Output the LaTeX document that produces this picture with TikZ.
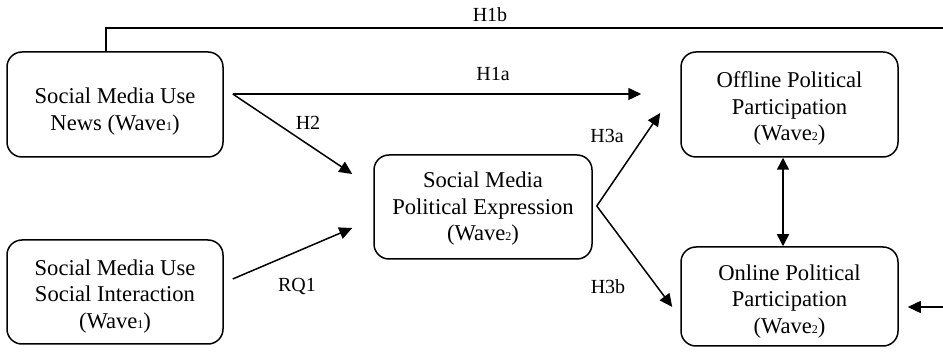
\documentclass[tikz,border=0pt]{standalone}
\usepackage{fontspec}
\setmainfont{Liberation Serif}
\usetikzlibrary{arrows.meta}
\newcommand{\wsub}[1]{{\fontsize{12}{12}\selectfont #1}}
\begin{document}
\begin{tikzpicture}[x=1pt,y=-1pt,
  box/.style={draw,line width=1.5pt,rounded corners=15pt,minimum width=216pt,minimum height=104pt,inner sep=0pt},
  boxtext/.style={align=center,font=\fontsize{22.6}{26.5}\selectfont,inner sep=0pt},
  lbl/.style={font=\fontsize{20}{24}\selectfont,inner sep=0pt},
  arr/.style={line width=1.5pt,-{Triangle[length=13pt,width=12pt]}},
  dbl/.style={line width=1.5pt,{Triangle[length=12pt,width=12pt]}-{Triangle[length=12pt,width=12pt]}}]
\useasboundingbox (0,0) rectangle (943,352);

% boxes
\node[box,minimum height=105pt] (news) at (115,104.5) {};
\node[box] (inter) at (115,292) {};
\node[box,minimum width=218pt] (expr) at (483,207) {};
\node[box,minimum width=217pt,minimum height=105pt] (off) at (789.5,104.5) {};
\node[box,minimum width=217pt,minimum height=99pt] (on) at (789.5,296.5) {};

% box texts
\node[boxtext] (newsT) at ([yshift=-7pt]news.center) {Social Media Use\\News (Wave\wsub{1})};
\node[boxtext] (interT) at ([yshift=-4.5pt]inter.center) {Social Media Use\\Social Interaction\\(Wave\wsub{1})};
\node[boxtext] (exprT) at ([yshift=-2pt]expr.center) {Social Media\\Political Expression\\(Wave\wsub{2})};
\node[boxtext] (offT) at ([yshift=-4pt]off.center) {Offline Political\\Participation\\(Wave\wsub{2})};
\node[boxtext] (onT) at ([yshift=-5pt]on.center) {Online Political\\Participation\\(Wave\wsub{2})};

% connectors
\coordinate (hb) at (960,28);
\draw[arr] ([xshift=-9pt]news.north) |- (hb) |- ([xshift=9pt,yshift=-10.5pt]on.east);
\draw[arr] ([xshift=9pt,yshift=10.5pt]news.east) -- ([xshift=-39pt,yshift=10.5pt]off.west);
\draw[arr] ([xshift=9pt,yshift=10.5pt]news.east) -- ([xshift=-21pt,yshift=33pt]expr.west);
\draw[arr] ([xshift=9pt,yshift=13pt]inter.east) -- ([xshift=-21pt,yshift=-21pt]expr.west);
\draw[arr] ([xshift=4pt,yshift=1pt]expr.east) -- ([xshift=-20pt,yshift=-8.5pt]off.west);
\draw[arr] ([xshift=4pt,yshift=1pt]expr.east) -- ([xshift=-8pt,yshift=-10.5pt]on.west);
\draw[dbl] ([xshift=-6.5pt]off.south) -- ([xshift=-6.5pt]on.north);

% labels
\node[lbl] (lH1b) at (490,15) {H1b};
\node[lbl] (lH1a) at (493,74) {H1a};
\node[lbl] (lH2) at (308,123) {H2};
\node[lbl] (lRQ1) at (297,287) {RQ1};
\node[lbl] (lH3a) at (607,136) {H3a};
\node[lbl] (lH3b) at (608,287) {H3b};
\end{tikzpicture}
\end{document}
